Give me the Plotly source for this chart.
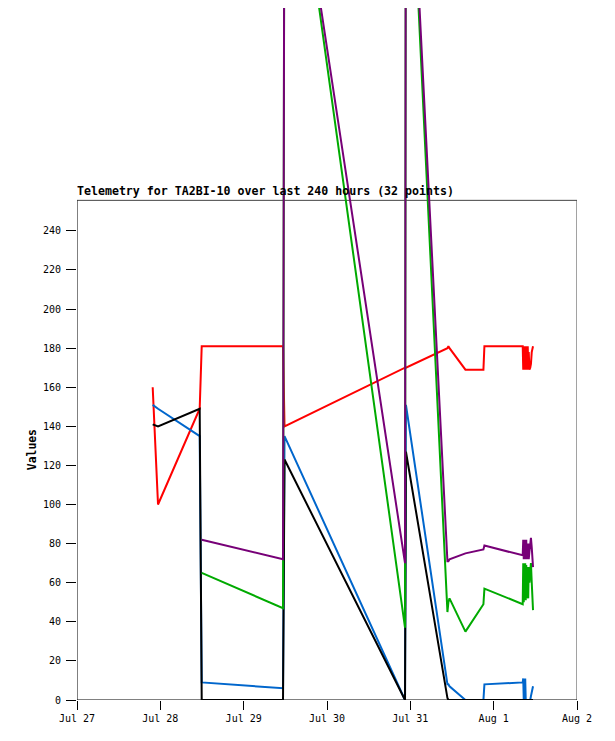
import plotly.graph_objects as go

# Telemetry samples (32 points)
times = [
    "2023-07-27 21:48", "2023-07-27 23:20", "2023-07-28 11:20", "2023-07-28 11:55",
    "2023-07-29 11:20", "2023-07-29 11:46", "2023-07-30 22:28", "2023-07-30 22:44",
    "2023-07-31 10:41", "2023-07-31 10:58", "2023-07-31 11:17", "2023-07-31 15:52",
    "2023-07-31 21:03", "2023-07-31 21:20", "2023-08-01 08:22", "2023-08-01 08:31",
    "2023-08-01 08:40", "2023-08-01 08:48", "2023-08-01 08:57", "2023-08-01 09:05",
    "2023-08-01 09:14", "2023-08-01 09:23", "2023-08-01 09:31", "2023-08-01 09:40",
    "2023-08-01 09:49", "2023-08-01 09:57", "2023-08-01 10:06", "2023-08-01 10:18",
    "2023-08-01 10:32", "2023-08-01 10:44", "2023-08-01 10:58", "2023-08-01 11:20",
]

red_vals = [160, 100, 149, 181, 181, 140, 170, 170, 180, 181, 180, 169, 169, 181, 181,
            169, 181, 169, 181, 169, 181, 169, 181, 169, 181, 169, 178, 169, 170, 172, 178, 181]
blue_vals = [151, 149, 135, 9, 6, 135, 0, 151, 8, 8, 7, 0, 0, 8, 9,
             11, 0, 10, 0, 11, 0, 0, 0, 0, 0, 0, 0, 0, 0, 2, 5, 7]
black_vals = [141, 140, 149, 0, 0, 123, 0, 127, 1, 0, 0, 0, 0, 0, 0,
              0, 0, 0, 0, 0, 0, 0, 0, 0, 0, 0, 0, 0, 0, 0, 0, 0]
green_vals = [None, None, None, 65, 47, 482, 37, 489, 45, 50, 52, 35, 49, 57, 49,
              70, 50, 70, 51, 70, 51, 69, 52, 68, 55, 52, 68, 60, 66, 70, 60, 46]
purple_vals = [None, None, None, 82, 72, 477, 70, 492, 71, 71, 72, 75, 77, 79, 74,
               82, 72, 82, 72, 82, 73, 82, 72, 80, 73, 80, 72, 76, 80, 83, 78, 68]

series = [
    ("red", red_vals, "#ff0000"),
    ("blue", blue_vals, "#0066cc"),
    ("black", black_vals, "#000000"),
    ("green", green_vals, "#00aa00"),
    ("purple", purple_vals, "#770077"),
]

y_ticks = list(range(0, 241, 20))
x_start = "2023-07-27"
x_end = "2023-08-02"
box_top = 255.6
y_view_top = 354.0  # axis runs to the top of the page so lines can overshoot the box

fig = go.Figure()

for name, vals, color in series:
    fig.add_trace(go.Scatter(
        x=times, y=vals, mode="lines", name=name,
        line=dict(color=color, width=2),
        connectgaps=False, showlegend=False,
    ))

# frame: black left/bottom, grey top/right
fig.add_shape(type="line", xref="x", yref="y", x0=x_start, x1=x_end, y0=box_top, y1=box_top,
              line=dict(color="#444444", width=1), layer="below")
fig.add_shape(type="line", xref="x", yref="y", x0=x_end, x1=x_end, y0=0, y1=box_top,
              line=dict(color="#444444", width=1), layer="below")
fig.add_shape(type="line", xref="x", yref="y", x0=x_start, x1=x_start, y0=0, y1=box_top,
              line=dict(color="#000000", width=1), layer="below")
fig.add_shape(type="line", xref="x", yref="y", x0=x_start, x1=x_end, y0=0, y1=0,
              line=dict(color="#000000", width=1), layer="below")

fig.add_annotation(
    text="<b>Telemetry for TA2BI-10 over last 240 hours (32 points)</b>",
    xref="x", yref="y", x=x_start, y=box_top, xanchor="left", yanchor="bottom",
    xshift=-2, showarrow=False,
    font=dict(family="DejaVu Sans Mono", size=11.6, color="black"),
)
fig.add_annotation(
    text="<b>Values</b>", textangle=-90,
    xref="paper", yref="y", x=-0.09, y=box_top / 2, xanchor="center", yanchor="middle",
    showarrow=False, font=dict(family="DejaVu Sans Mono", size=11.4, color="black"),
)

fig.update_xaxes(
    range=[x_start, x_end], tickformat="%b %-d", dtick=86400000, tick0=x_start,
    ticks="outside", ticklen=9, tickcolor="black", tickwidth=1,
    showgrid=False, zeroline=False, showline=False,
    tickfont=dict(family="DejaVu Sans Mono", size=10, color="black"),
)
fig.update_yaxes(
    range=[0, y_view_top], tickvals=y_ticks, ticktext=[str(v) for v in y_ticks],
    ticks="outside", ticklen=10, tickcolor="black", tickwidth=1,
    ticklabelstandoff=3,
    showgrid=False, zeroline=False, showline=False,
    tickfont=dict(family="DejaVu Sans Mono", size=10, color="black"),
)

# the page adds an 8px body margin, so the figure is 8px smaller on each side
fig.update_layout(
    width=607, height=733,
    margin=dict(l=69, r=38, t=0, b=41),
    plot_bgcolor="white", paper_bgcolor="white",
)

fig.write_html("out.html")
